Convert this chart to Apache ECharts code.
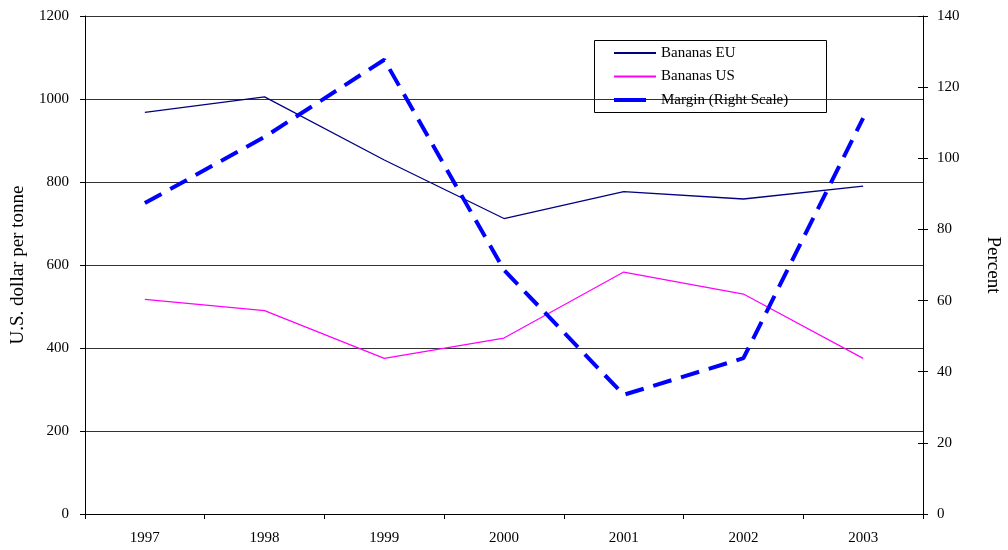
<!DOCTYPE html>
<html>
<head>
<meta charset="utf-8">
<script src="https://cdn.jsdelivr.net/npm/echarts@6/dist/echarts.min.js"></script>
<style>html,body{margin:0;padding:0;background:#fff}#c{width:1008px;height:550px}</style>
</head>
<body>
<div id="c"></div>
<script>
var years = ['1997','1998','1999','2000','2001','2002','2003'];
var bananasEU = [968, 1005, 853, 712, 777, 759, 790];
var bananasUS = [517, 490, 375, 424, 583, 530, 375];
var margin = [87.4, 106, 127.7, 68.6, 33.5, 43.8, 111.3];
var leftTicks = {min: 0, max: 1200, interval: 200};
var rightTicks = {min: 0, max: 140, interval: 20};

var FONT = '"Liberation Serif", "Times New Roman", serif';
var chart = echarts.init(document.getElementById('c'), null, {renderer: 'canvas'});
chart.setOption({
  animation: false,
  backgroundColor: '#fff',
  textStyle: {fontFamily: FONT, color: '#000'},
  grid: {left: 85, right: 85, top: 16, bottom: 36, containLabel: false, outerBoundsMode: 'none'},
  legend: {
    orient: 'vertical', left: 612, top: 45, padding: 0,
    itemWidth: 42, itemHeight: 10, itemGap: 7.5,
    itemStyle: {opacity: 0},
    textStyle: {fontFamily: FONT, fontSize: 15, lineHeight: 16, color: '#000'},
    data: [
      {name: 'Bananas EU'},
      {name: 'Bananas US'},
      {name: 'Margin (Right Scale)', lineStyle: {type: [32, 40], width: 4}}
    ]
  },
  graphic: [{
    type: 'rect', left: 594, top: 40, z: 0,
    shape: {width: 232, height: 72},
    style: {fill: '#fff', stroke: '#000', lineWidth: 1}
  }],
  xAxis: {
    type: 'category', data: years, boundaryGap: true,
    axisLine: {lineStyle: {color: '#000', width: 1}},
    axisTick: {show: true, interval: 0, length: 5, lineStyle: {color: '#000'}},
    axisLabel: {fontFamily: FONT, fontSize: 15, color: '#000', margin: 17, interval: 0}
  },
  yAxis: [{
    type: 'value', position: 'left', min: leftTicks.min, max: leftTicks.max, interval: leftTicks.interval,
    name: 'U.S. dollar per tonne', nameLocation: 'middle', nameRotate: 90, nameGap: 57,
    nameTextStyle: {fontFamily: FONT, fontSize: 19, color: '#000'},
    axisLine: {show: true, lineStyle: {color: '#000'}},
    axisTick: {show: true, length: 5, lineStyle: {color: '#000'}},
    axisLabel: {fontFamily: FONT, fontSize: 15, color: '#000', margin: 16, formatter: function (v) { return String(v); }},
    splitLine: {show: true, lineStyle: {color: '#333', width: 1}}
  }, {
    type: 'value', position: 'right', min: rightTicks.min, max: rightTicks.max, interval: rightTicks.interval,
    name: 'Percent', nameLocation: 'middle', nameRotate: -90, nameGap: 60,
    nameTextStyle: {fontFamily: FONT, fontSize: 19, color: '#000'},
    axisLine: {show: true, lineStyle: {color: '#000'}},
    axisTick: {show: true, length: 5, lineStyle: {color: '#000'}},
    axisLabel: {fontFamily: FONT, fontSize: 15, color: '#000', margin: 14},
    splitLine: {show: false}
  }, {
    type: 'value', position: 'right', min: rightTicks.min, max: rightTicks.max, interval: rightTicks.interval,
    axisLine: {show: false},
    axisTick: {show: true, inside: true, length: 5, lineStyle: {color: '#000'}},
    axisLabel: {show: false},
    splitLine: {show: false}
  }],
  series: [{
    name: 'Bananas EU', type: 'line', data: bananasEU, yAxisIndex: 0,
    symbol: 'none', lineStyle: {color: '#000080', width: 1.3}, itemStyle: {color: '#000080'}
  }, {
    name: 'Bananas US', type: 'line', data: bananasUS, yAxisIndex: 0,
    symbol: 'none', lineStyle: {color: '#ff00ff', width: 1.2}, itemStyle: {color: '#ff00ff'}
  }, {
    name: 'Margin (Right Scale)', type: 'line', data: margin, yAxisIndex: 1,
    symbol: 'none', lineStyle: {color: '#0000ff', width: 4, type: [19, 10]}, itemStyle: {color: '#0000ff'}
  }]
});
</script>
</body>
</html>
